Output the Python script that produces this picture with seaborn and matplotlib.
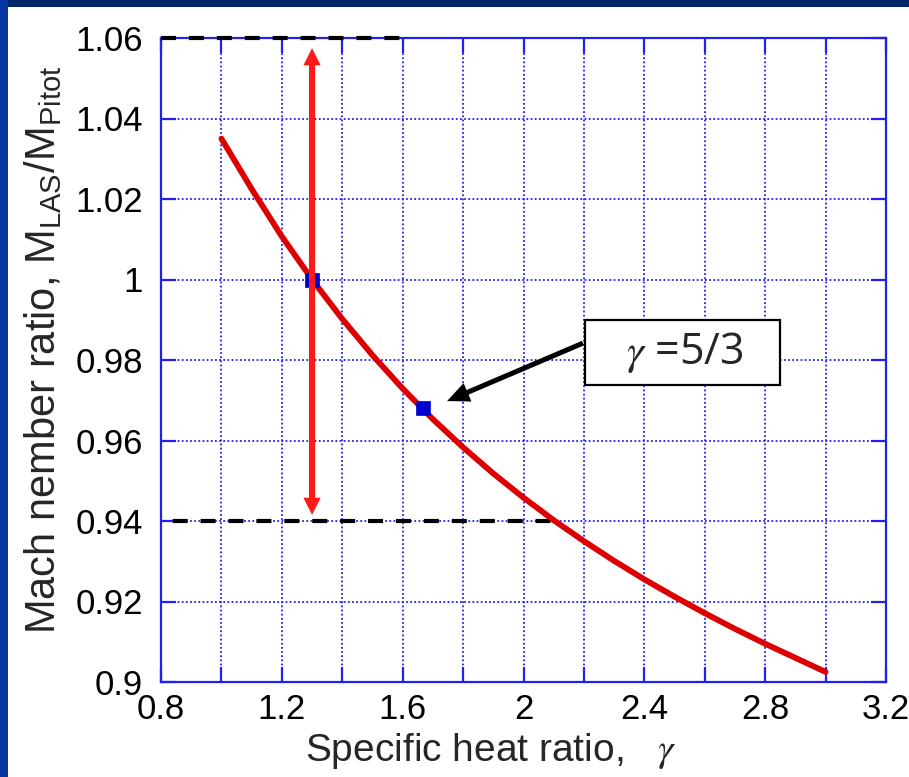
import matplotlib
matplotlib.use("Agg")
import matplotlib.pyplot as plt
from matplotlib.patches import Rectangle
from matplotlib.ticker import FixedLocator, FixedFormatter
import pandas as pd
import seaborn as sns

# ---- data ----
gamma = [1.0, 1.1, 1.2, 1.3, 1.4, 1.5, 1.6, 1.7, 1.8, 1.9, 2.0,
         2.1, 2.2, 2.3, 2.4, 2.5, 2.6, 2.7, 2.8, 2.9, 3.0]
mach_ratio = [1.0350, 1.0225, 1.0107, 1.0000, 0.9902, 0.9812, 0.9729, 0.9653,
              0.9583, 0.9518, 0.9458, 0.9402, 0.9350, 0.9301, 0.9255, 0.9212,
              0.9171, 0.9132, 0.9095, 0.9060, 0.9025]
marked_gamma = [1.3, 5 / 3]
marked_ratio = [1.000, 0.968]
x_ticks = [0.8, 1.2, 1.6, 2.0, 2.4, 2.8, 3.2]
x_tick_labels = ["0.8", "1.2", "1.6", "2", "2.4", "2.8", "3.2"]
x_minor_ticks = [1.0, 1.4, 1.8, 2.2, 2.6, 3.0]
y_ticks = [0.90, 0.92, 0.94, 0.96, 0.98, 1.00, 1.02, 1.04, 1.06]
y_tick_labels = ["0.9", "0.92", "0.94", "0.96", "0.98", "1", "1.02", "1.04", "1.06"]
ref_levels = [1.06, 0.94]
ref_ends = [1.59, 2.10]
range_gamma = 1.3
range_top = 1.0575
range_bottom = 0.9415
annot_text = r"$\gamma$ =5/3"

sns.set_style("white")
plt.rcParams["font.family"] = ["Liberation Sans", "DejaVu Sans"]
plt.rcParams["mathtext.fontset"] = "custom"
plt.rcParams["mathtext.rm"] = "Liberation Sans"
plt.rcParams["mathtext.it"] = "Liberation Sans:italic"
plt.rcParams["mathtext.bf"] = "Liberation Sans:bold"

BLUE = "#2020f0"

fig = plt.figure(figsize=(9.09, 7.77), dpi=100)
fig.patch.set_facecolor("white")
# navy slide border strips
fig.add_artist(Rectangle((0, 1 - 7 / 777), 1, 7 / 777, transform=fig.transFigure,
                         facecolor="#002468", edgecolor="none", zorder=0))
fig.add_artist(Rectangle((0, 0), 8 / 909, 1, transform=fig.transFigure,
                         facecolor="#0535a0", edgecolor="none", zorder=0))

ax = fig.add_axes([161 / 909, 1 - 682 / 777, 725 / 909, 644 / 777])
ax.set_facecolor("white")

df = pd.DataFrame({"gamma": gamma, "ratio": mach_ratio})
sns.lineplot(data=df, x="gamma", y="ratio", ax=ax, color="#dd0000", lw=4.2,
             sort=False, estimator=None, zorder=3)

# dashed reference lines
ax.plot([0.8, ref_ends[0]], [ref_levels[0], ref_levels[0]], color="black", lw=3,
        linestyle=(0, (3.6, 3.1)), zorder=3.5, clip_on=False, dash_capstyle="butt")
ax.plot([0.8, ref_ends[1]], [ref_levels[1], ref_levels[1]], color="black", lw=3,
        linestyle=(3.9, (3.6, 3.1)), zorder=2.6, dash_capstyle="butt")

sns.scatterplot(x=marked_gamma, y=marked_ratio, ax=ax, marker="s", s=110,
                color="#0000cc", edgecolor="#0000cc", linewidth=0.5, zorder=4)

# red double arrow (two filled halves from the middle)
mid = (range_top + range_bottom) / 2
for tip in (range_top, range_bottom):
    ax.annotate("", xy=(range_gamma, tip), xytext=(range_gamma, mid),
                arrowprops=dict(arrowstyle="simple,head_length=0.62,head_width=0.62,tail_width=0.22",
                                mutation_scale=20, color="#ff1a1a", lw=0,
                                shrinkA=0, shrinkB=0), zorder=5)

# annotation box with arrow
ax.add_patch(Rectangle((2.205, 0.9738), 0.645, 0.0162, facecolor="white",
                       edgecolor="black", lw=1.6, zorder=5))
ax.text(2.535, 0.9819, annot_text, ha="center", va="center", fontsize=31,
        family="Open Sans", math_fontfamily="stix", zorder=6)
ax.annotate("", xy=(1.747, 0.9698), xytext=(2.197, 0.9842),
            arrowprops=dict(arrowstyle="simple,head_length=0.8,head_width=0.72,tail_width=0.18",
                            mutation_scale=20, color="black", lw=0,
                            shrinkA=0, shrinkB=0), zorder=6)

ax.set_xlim(0.8, 3.2)
ax.set_ylim(0.9, 1.06)
ax.xaxis.set_major_locator(FixedLocator(x_ticks))
ax.xaxis.set_major_formatter(FixedFormatter(x_tick_labels))
ax.xaxis.set_minor_locator(FixedLocator(x_minor_ticks))
ax.yaxis.set_major_locator(FixedLocator(y_ticks))
ax.yaxis.set_major_formatter(FixedFormatter(y_tick_labels))

ax.grid(which="both", axis="x", color=BLUE, linestyle=(0, (1, 1.3)), lw=1.3)
ax.grid(which="major", axis="y", color=BLUE, linestyle=(0, (1, 1.3)), lw=1.3)
ax.set_axisbelow(True)

ax.tick_params(which="both", direction="in", length=11, width=1.6, color=BLUE,
               top=True, right=True, bottom=True, left=True, labelcolor="black")
ax.tick_params(axis="x", which="major", labelsize=25, pad=8)
ax.tick_params(axis="y", which="major", labelsize=25, pad=13)
for sp in ax.spines.values():
    sp.set_color(BLUE)
    sp.set_linewidth(1.6)
    sp.set_visible(True)

ax.set_xlabel(r"Specific heat ratio,   $\gamma$", fontsize=28, math_fontfamily="stix")
ax.xaxis.set_label_coords(0.454, -0.076)
ax.set_ylabel(r"Mach nember ratio, M$_{\mathrm{LAS}}$/M$_{\mathrm{Pitot}}$", fontsize=30)
ax.yaxis.set_label_coords(-0.133, 0.515)

fig.savefig("out.png", dpi=100)
